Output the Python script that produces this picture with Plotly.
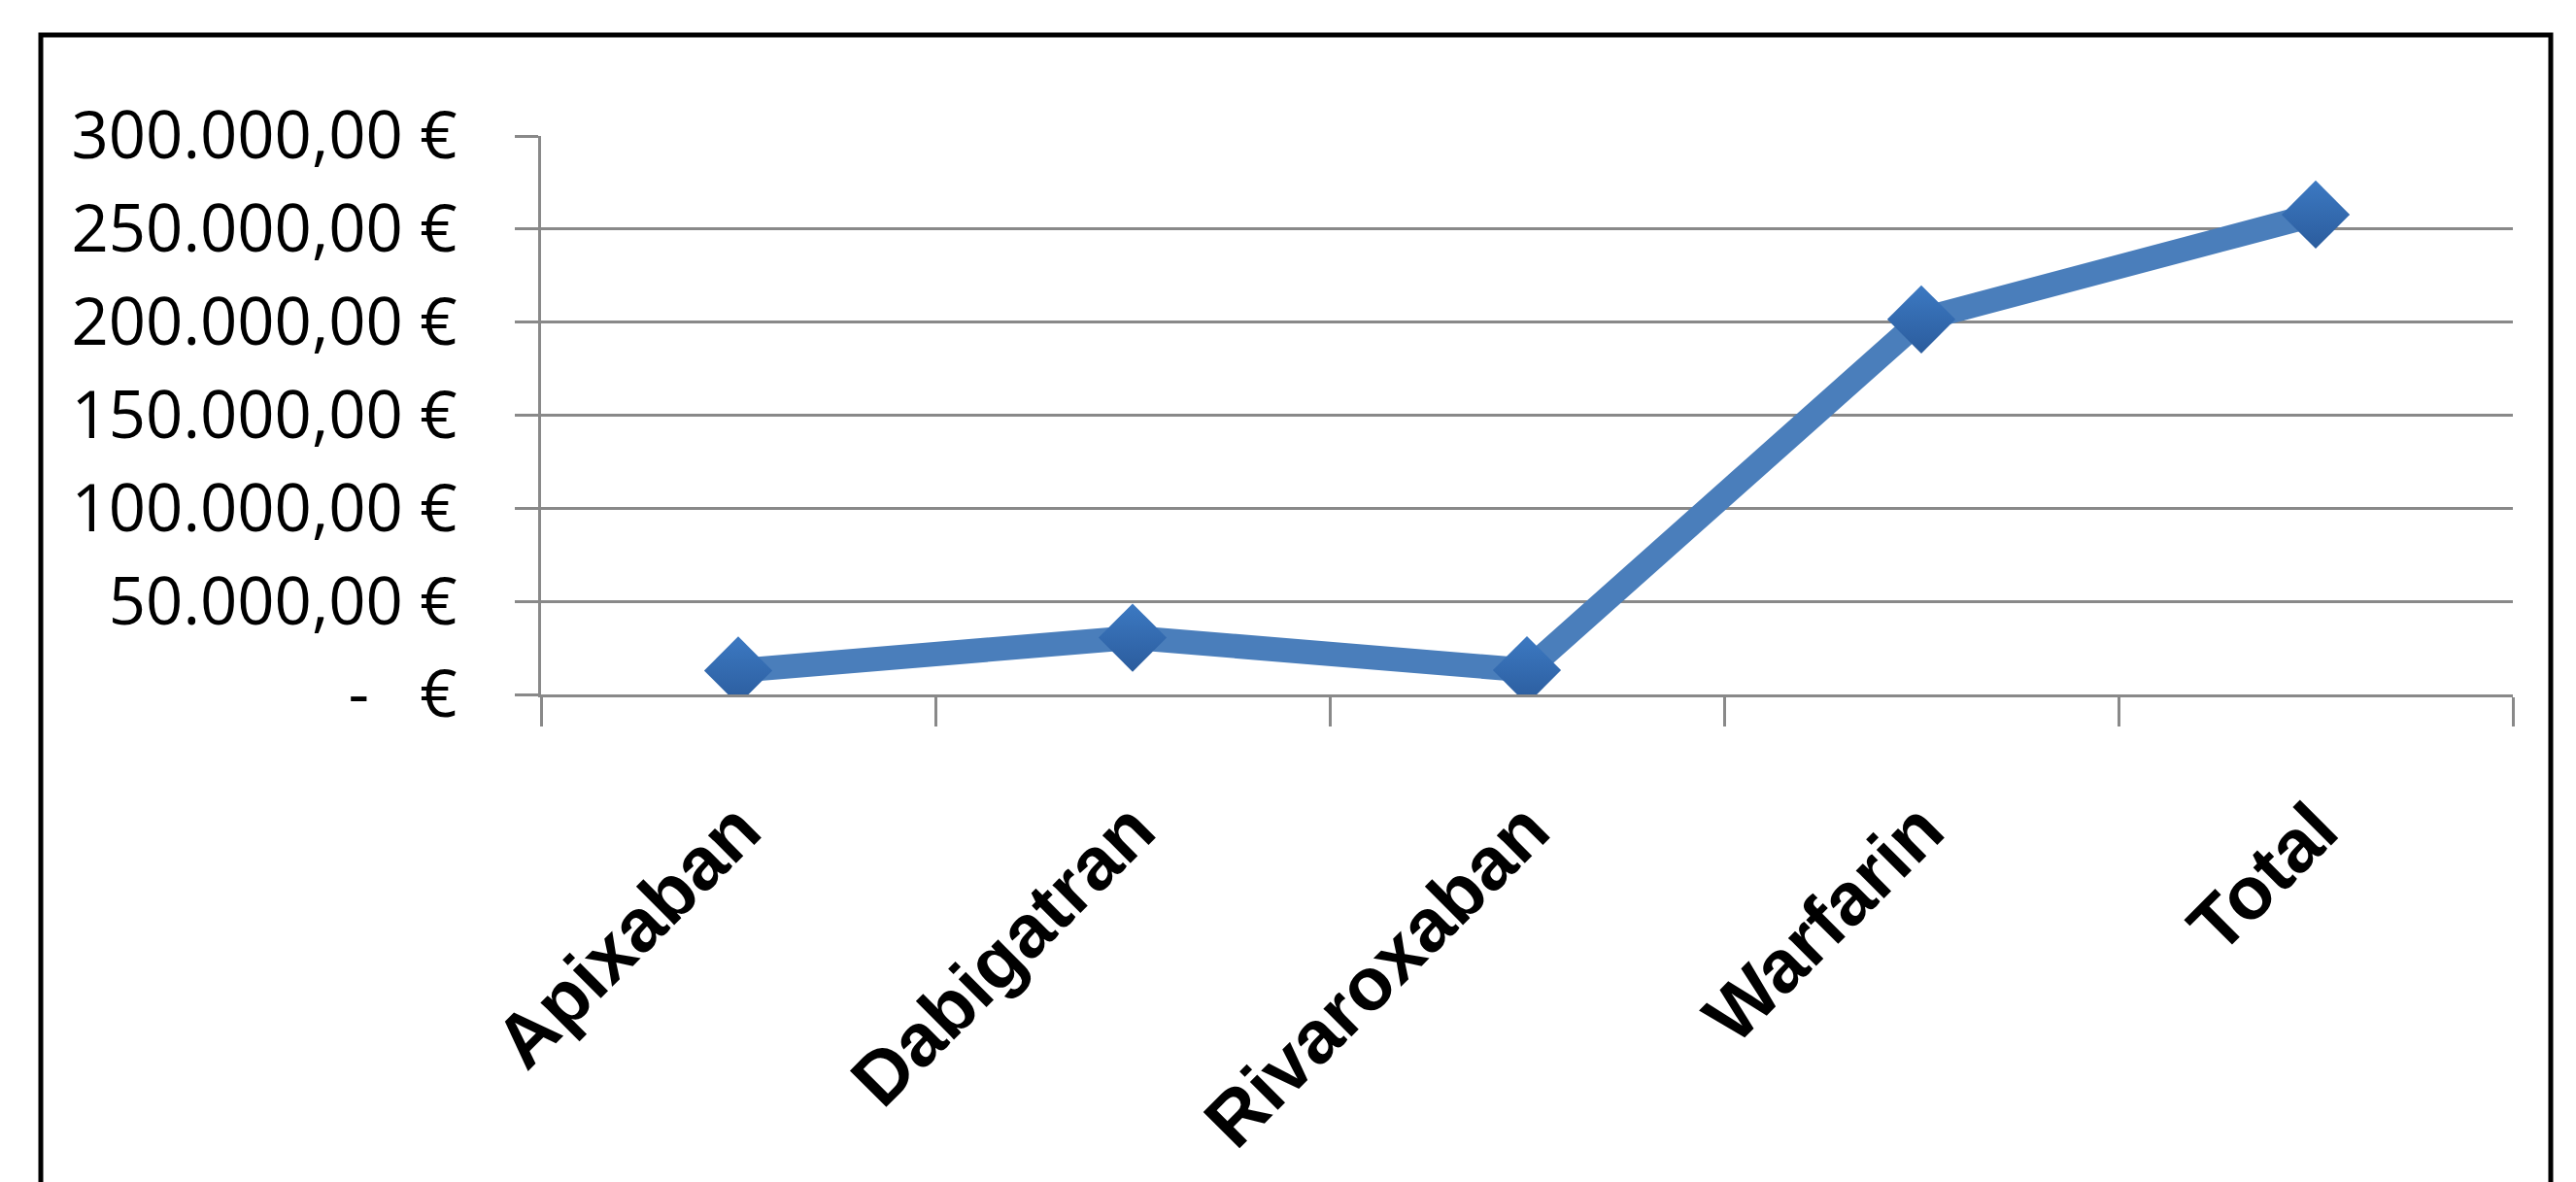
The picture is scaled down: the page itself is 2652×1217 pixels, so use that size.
import plotly.graph_objects as go

# ---- data ----
categories = ["Apixaban", "Dabigatran", "Rivaroxaban", "Warfarin", "Total"]
costs_eur = [12800, 30500, 13000, 201500, 257800]

y_tick_values = [0, 50000, 100000, 150000, 200000, 250000, 300000]
y_tick_labels = [
    "-\u00a0\u00a0\u00a0€",
    "50.000,00 €",
    "100.000,00 €",
    "150.000,00 €",
    "200.000,00 €",
    "250.000,00 €",
    "300.000,00 €",
]

# ---- styling ----
W, H = 2652, 1217
M_L, M_R, M_T, M_B = 557, 65, 140, 502
GRID = "#898989"
LINE_BLUE = "#4A7EBB"

fig = go.Figure()
fig.add_trace(
    go.Scatter(
        x=categories,
        y=costs_eur,
        mode="lines+markers",
        line=dict(color=LINE_BLUE, width=25),
        marker=dict(
            symbol="diamond",
            size=54,
            color="#3C79C2",
            gradient=dict(type="vertical", color="#2B5C9D"),
            line=dict(width=0),
        ),
        showlegend=False,
        hoverinfo="x+y",
    )
)

# outer frame of the chart (paper coordinates converted from the plot box)
plot_w = W - M_L - M_R
plot_h = H - M_T - M_B
def px_x(px):
    return (px - M_L) / plot_w
def px_y(py):
    return (H - M_B - py) / plot_h

fig.add_shape(
    type="rect",
    xref="paper", yref="paper",
    x0=px_x(42), x1=px_x(2626),
    y0=px_y(1260), y1=px_y(36),
    line=dict(color="black", width=5),
    fillcolor="rgba(0,0,0,0)",
    layer="above",
)

fig.update_layout(
    width=W,
    height=H,
    margin=dict(l=M_L, r=M_R, t=M_T, b=M_B, autoexpand=False),
    paper_bgcolor="white",
    plot_bgcolor="white",
    showlegend=False,
)

fig.update_xaxes(
    type="category",
    range=[-0.5, len(categories) - 0.5],
    showgrid=False,
    zeroline=False,
    showline=True,
    linecolor=GRID,
    linewidth=3,
    ticks="outside",
    tickson="boundaries",
    ticklen=30,
    tickwidth=3,
    tickcolor=GRID,
    tickangle=-45,
    ticklabelstandoff=60,
    tickfont=dict(family="Liberation Sans", size=77, color="black", weight="bold"),
)

fig.update_yaxes(
    range=[0, 300000],
    tickmode="array",
    tickvals=y_tick_values,
    ticktext=y_tick_labels,
    showgrid=True,
    gridcolor=GRID,
    gridwidth=3,
    zeroline=False,
    showline=True,
    linecolor=GRID,
    linewidth=3,
    ticks="outside",
    ticklen=24,
    tickwidth=3,
    tickcolor=GRID,
    ticklabelstandoff=46,
    tickfont=dict(family="Open Sans", size=67, color="black"),
)

fig.write_html("out.html")
